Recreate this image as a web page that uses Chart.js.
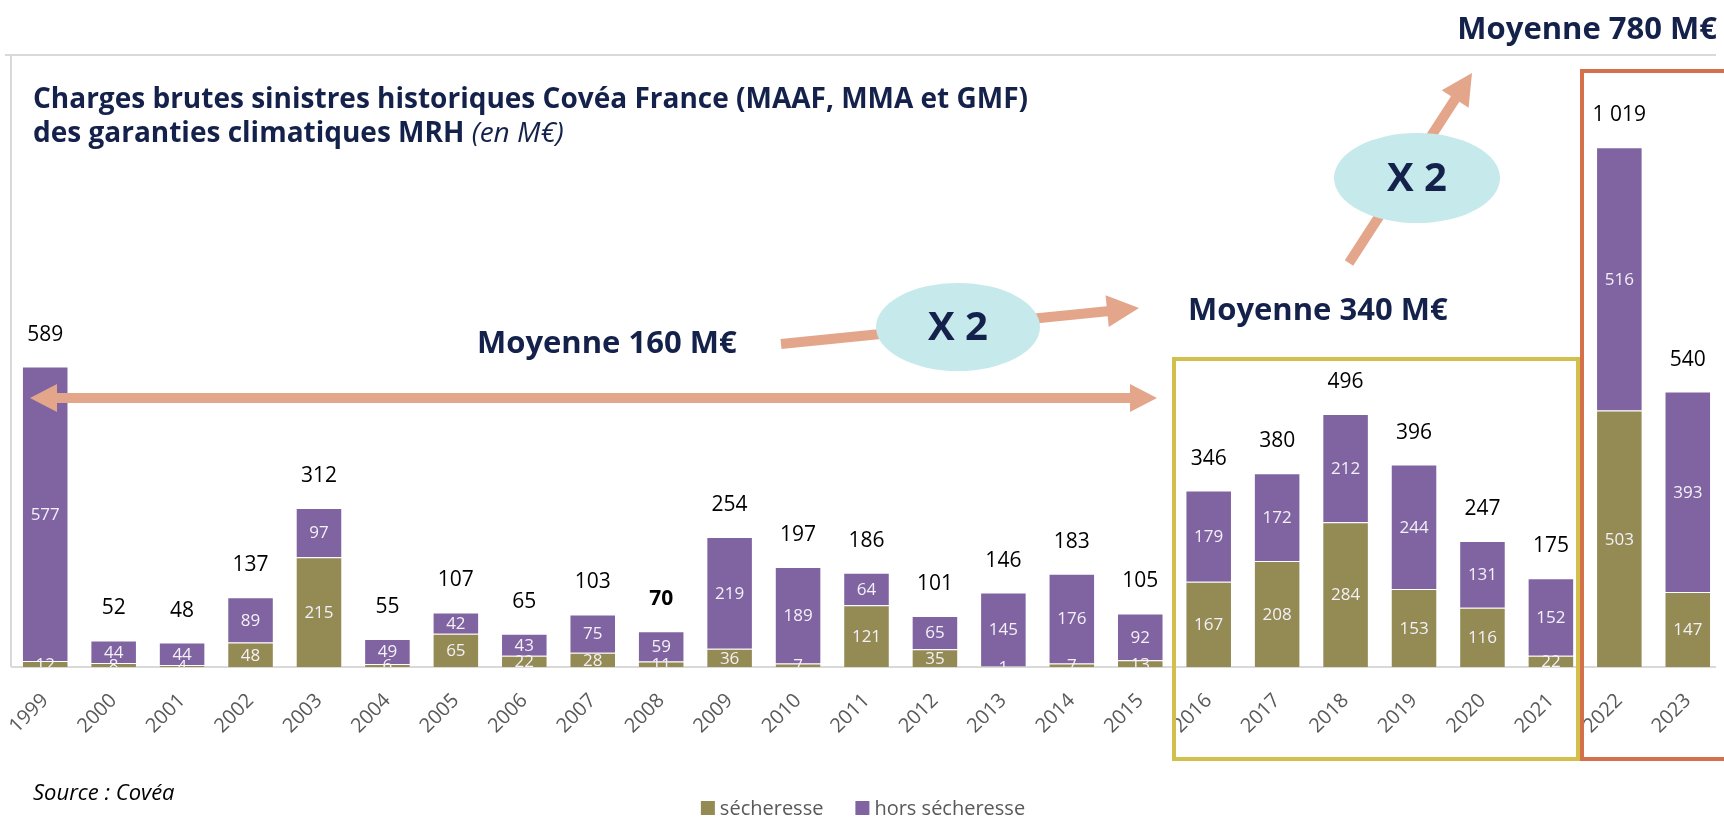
<!DOCTYPE html>
<html lang="fr">
<head>
<meta charset="utf-8">
<title>Charges brutes sinistres historiques Covéa France</title>
<script src="https://cdn.jsdelivr.net/npm/chart.js@4.4.1/dist/chart.umd.min.js"></script>
<style>
  html, body { margin: 0; padding: 0; background: #fff; }
  #wrap { position: relative; width: 1724px; height: 819px; }
</style>
</head>
<body>
<div id="wrap"><canvas id="chart" width="1724" height="819"></canvas></div>
<script>
// Data (M€)
const years = ['1999', '2000', '2001', '2002', '2003', '2004', '2005', '2006', '2007', '2008', '2009', '2010',
  '2011', '2012', '2013', '2014', '2015', '2016', '2017', '2018', '2019', '2020', '2021', '2022', '2023'];
const secheresse = [12, 8, 4, 48, 215, 6, 65, 22, 28, 11, 36, 7, 121, 35, 1, 7, 13, 167, 208, 284, 153, 116, 22, 503, 147];
const horsSecheresse = [577, 44, 44, 89, 97, 49, 42, 43, 75, 59, 219, 189, 64, 65, 145, 176, 92, 179, 172, 212, 244, 131, 152, 516, 393];
const totals = ['589', '52', '48', '137', '312', '55', '107', '65', '103', '70', '254', '197', '186', '101', '146', '183', '105',
  '346', '380', '496', '396', '247', '175', '1 019', '540'];
const boldTotals = ['2008'];

const NAVY = '#14224b';
const SALMON = '#e3a68b';
const CYAN = '#c6e9ec';
const BODY_FONT = '"Liberation Sans Narrow", "Open Sans", sans-serif';
const HEAD_FONT = '"Open Sans", sans-serif';

// grey frame: top line, left line and baseline
const frame = {
    id: 'frame',
    beforeDatasetsDraw(chart) {
        const { ctx, chartArea } = chart;
        ctx.save();
        ctx.strokeStyle = '#d9d9d9';
        ctx.lineWidth = 2;
        ctx.beginPath();
        ctx.moveTo(5, chartArea.top);
        ctx.lineTo(1716, chartArea.top);
        ctx.moveTo(chartArea.left, chartArea.top);
        ctx.lineTo(chartArea.left, chartArea.bottom);
        ctx.moveTo(chartArea.left, chartArea.bottom);
        ctx.lineTo(1716, chartArea.bottom);
        ctx.stroke();
        ctx.restore();
    }
};

// values inside each segment + totals above the stacks
const valueLabels = {
    id: 'valueLabels',
    afterDatasetsDraw(chart) {
        const { ctx, chartArea } = chart;
        ctx.save();
        ctx.beginPath();
        ctx.rect(chartArea.left, chartArea.top, chartArea.right - chartArea.left, chartArea.bottom - chartArea.top);
        ctx.clip();
        ctx.font = '17px ' + BODY_FONT;
        ctx.fillStyle = '#f3f0f7';
        ctx.textAlign = 'center';
        ctx.textBaseline = 'middle';
        chart.data.datasets.forEach((ds, di) => {
            chart.getDatasetMeta(di).data.forEach((bar, i) => {
                ctx.fillText(String(ds.data[i]), bar.x, (bar.y + bar.base) / 2 + 1);
            });
        });
        ctx.restore();

        ctx.save();
        ctx.fillStyle = '#000';
        ctx.textAlign = 'center';
        ctx.textBaseline = 'middle';
        const topMeta = chart.getDatasetMeta(chart.data.datasets.length - 1);
        topMeta.data.forEach((bar, i) => {
            ctx.font = (boldTotals.includes(years[i]) ? 'bold ' : '') + '21px ' + BODY_FONT;
            ctx.fillText(totals[i], bar.x, bar.y - 32);
        });
        ctx.restore();
    }
};

function drawArrow(ctx, x1, y1, x2, y2, shaft, headLen, headHalf) {
    const a = Math.atan2(y2 - y1, x2 - x1);
    const len = Math.hypot(x2 - x1, y2 - y1);
    ctx.save();
    ctx.translate(x1, y1);
    ctx.rotate(a);
    ctx.beginPath();
    ctx.moveTo(0, -shaft / 2);
    ctx.lineTo(len - headLen, -shaft / 2);
    ctx.lineTo(len - headLen, -headHalf);
    ctx.lineTo(len, 0);
    ctx.lineTo(len - headLen, headHalf);
    ctx.lineTo(len - headLen, shaft / 2);
    ctx.lineTo(0, shaft / 2);
    ctx.closePath();
    ctx.fill();
    ctx.restore();
}

function drawDoubleArrow(ctx, x1, x2, y, shaft, headLen, headHalf) {
    ctx.beginPath();
    ctx.moveTo(x1, y);
    ctx.lineTo(x1 + headLen, y - headHalf);
    ctx.lineTo(x1 + headLen, y - shaft / 2);
    ctx.lineTo(x2 - headLen, y - shaft / 2);
    ctx.lineTo(x2 - headLen, y - headHalf);
    ctx.lineTo(x2, y);
    ctx.lineTo(x2 - headLen, y + headHalf);
    ctx.lineTo(x2 - headLen, y + shaft / 2);
    ctx.lineTo(x1 + headLen, y + shaft / 2);
    ctx.lineTo(x1 + headLen, y + headHalf);
    ctx.closePath();
    ctx.fill();
}

function drawBubble(ctx, cx, cy, rx, ry) {
    ctx.fillStyle = CYAN;
    ctx.beginPath();
    ctx.ellipse(cx, cy, rx, ry, 0, 0, Math.PI * 2);
    ctx.fill();
    ctx.fillStyle = NAVY;
    ctx.font = 'bold 40px ' + HEAD_FONT;
    ctx.textAlign = 'center';
    ctx.textBaseline = 'middle';
    ctx.fillText('X 2', cx, cy + 2);
}

// titles, averages, arrows and frames around the recent years
const annotations = {
    id: 'annotations',
    afterDraw(chart) {
        const { ctx } = chart;
        ctx.save();

        // title
        ctx.fillStyle = NAVY;
        ctx.textAlign = 'left';
        ctx.textBaseline = 'alphabetic';
        ctx.font = 'bold 28px ' + HEAD_FONT;
        ctx.fillText('Charges brutes sinistres historiques Covéa France (MAAF, MMA et GMF)', 33, 108);
        const line2 = 'des garanties climatiques MRH ';
        ctx.fillText(line2, 33, 142);
        const w2 = ctx.measureText(line2).width;
        ctx.font = 'italic 28px ' + HEAD_FONT;
        ctx.fillText('(en M€)', 33 + w2, 142);

        // frames
        ctx.lineWidth = 4;
        ctx.strokeStyle = '#d3bf4b';
        ctx.strokeRect(1174, 359, 404, 400);
        ctx.strokeStyle = '#d5714a';
        ctx.strokeRect(1582, 71, 200, 688);

        // arrows
        ctx.fillStyle = SALMON;
        drawDoubleArrow(ctx, 30, 1157, 398, 10, 27, 14);
        drawArrow(ctx, 781, 344, 1139, 308, 10, 32, 16);
        drawArrow(ctx, 1349, 263, 1472, 73, 10, 31, 16);
        drawBubble(ctx, 958, 327, 82, 44);
        drawBubble(ctx, 1417, 178, 83, 45);

        // averages
        ctx.fillStyle = NAVY;
        ctx.font = 'bold 31px ' + HEAD_FONT;
        ctx.textBaseline = 'alphabetic';
        ctx.textAlign = 'left';
        ctx.fillText('Moyenne 160 M€', 477, 353);
        ctx.fillText('Moyenne 340 M€', 1188, 320);
        ctx.textAlign = 'right';
        ctx.fillText('Moyenne 780 M€', 1717, 39);

        // source
        ctx.fillStyle = '#000';
        ctx.textAlign = 'left';
        ctx.textBaseline = 'middle';
        ctx.font = 'italic 22px ' + BODY_FONT;
        ctx.fillText('Source : Covéa', 33, 794);

        // legend
        ctx.font = '20px ' + BODY_FONT;
        const items = chart.data.datasets.map(ds => ({ text: ds.label, color: ds.backgroundColor }));
        const box = 14, gap = 5, spacing = 32;
        const widths = items.map(it => box + gap + ctx.measureText(it.text).width);
        const total = widths.reduce((a, b) => a + b, 0) + spacing * (items.length - 1);
        let x = 863 - total / 2;
        const y = 808;
        items.forEach((it, i) => {
            ctx.fillStyle = it.color;
            ctx.fillRect(x, y - box / 2, box, box);
            ctx.fillStyle = '#595959';
            ctx.fillText(it.text, x + box + gap, y + 1);
            x += widths[i] + spacing;
        });

        ctx.restore();
    }
};

const ctx = document.getElementById('chart');
new Chart(ctx, {
    type: 'bar',
    data: {
        labels: years,
        datasets: [
            {
                label: 'sécheresse',
                data: secheresse,
                backgroundColor: '#948a54',
                borderColor: 'rgba(255, 255, 255, 0.35)',
                borderWidth: 1,
                barPercentage: 0.68,
                categoryPercentage: 1
            },
            {
                label: 'hors sécheresse',
                data: horsSecheresse,
                backgroundColor: '#8064a2',
                borderColor: 'rgba(255, 255, 255, 0.35)',
                borderWidth: 1,
                barPercentage: 0.68,
                categoryPercentage: 1
            }
        ]
    },
    options: {
        responsive: false,
        animation: false,
        layout: { padding: { left: 11, right: 2, top: 55, bottom: 0 } },
        scales: {
            x: {
                stacked: true,
                offset: true,
                grid: { display: false, drawTicks: false },
                border: { display: false },
                ticks: {
                    color: '#595959',
                    font: { family: BODY_FONT, size: 20 },
                    minRotation: 45,
                    maxRotation: 45,
                    autoSkip: false,
                    padding: 22
                },
                afterFit: scale => {
                    // keep the plot area fixed; rotated labels may overhang
                    scale.height = 152;
                    scale.paddingLeft = 0;
                    scale.paddingRight = 0;
                }
            },
            y: {
                stacked: true,
                display: false,
                min: 0,
                max: 1200
            }
        },
        plugins: {
            legend: { display: false },
            tooltip: { enabled: false }
        }
    },
    plugins: [frame, valueLabels, annotations]
});
</script>
</body>
</html>
